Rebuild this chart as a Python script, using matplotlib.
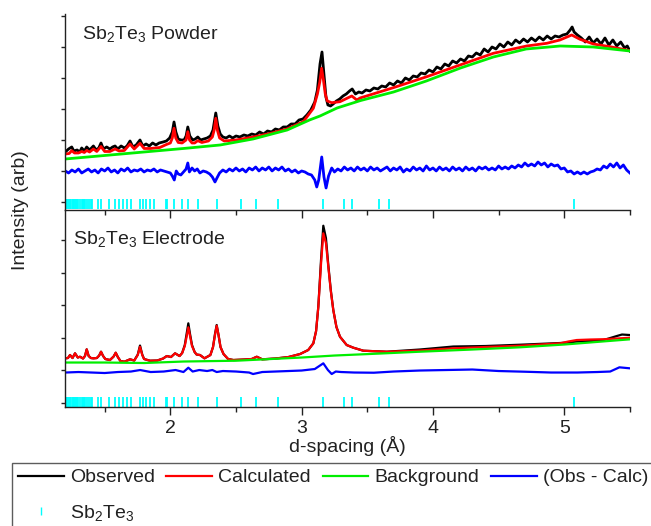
import numpy as np
import matplotlib
matplotlib.use('Agg')
import matplotlib.pyplot as plt
from matplotlib.lines import Line2D
from matplotlib.ticker import MultipleLocator

plt.rcParams['font.family'] = ['Liberation Sans', 'DejaVu Sans']
plt.rcParams['mathtext.default'] = 'regular'
plt.rcParams['font.size'] = 14

# Sb2Te3 reflection positions (d-spacing, A)
refl_d = [1.202, 1.208, 1.213, 1.220, 1.228, 1.236, 1.244, 1.255, 1.261, 1.267,
          1.275, 1.282, 1.290, 1.297, 1.312, 1.324, 1.335, 1.342, 1.350, 1.366,
          1.381, 1.396, 1.407, 1.452, 1.470, 1.535, 1.579, 1.612, 1.642, 1.668,
          1.701, 1.769, 1.794, 1.815, 1.845, 1.878, 1.967, 1.977, 2.030, 2.091,
          2.133, 2.213, 2.353, 2.538, 2.653, 2.818, 3.161, 3.325, 3.386, 3.592,
          3.668, 5.075]

# ---- powder pattern (arb. intensity)
powder_obs_d = [1.200, 1.225, 1.249, 1.265, 1.290, 1.310, 1.325, 1.345, 1.363, 1.385,
                1.400, 1.414, 1.435, 1.455, 1.472, 1.490, 1.515, 1.540, 1.560, 1.579,
                1.600, 1.625, 1.650, 1.670, 1.693, 1.715, 1.740, 1.769, 1.790, 1.815,
                1.840, 1.865, 1.890, 1.915, 1.945, 1.970, 1.995, 2.015, 2.028, 2.042,
                2.060, 2.080, 2.105, 2.120, 2.133, 2.148, 2.170, 2.190, 2.209, 2.230,
                2.255, 2.280, 2.305, 2.325, 2.346, 2.362, 2.380, 2.400, 2.425, 2.450,
                2.475, 2.500, 2.530, 2.560, 2.590, 2.620, 2.650, 2.680, 2.710, 2.740,
                2.770, 2.800, 2.830, 2.860, 2.890, 2.920, 2.950, 2.980, 3.010, 3.040,
                3.070, 3.100, 3.120, 3.140, 3.155, 3.170, 3.185, 3.200, 3.220, 3.240,
                3.265, 3.290, 3.315, 3.340, 3.365, 3.385, 3.410, 3.435, 3.460, 3.490,
                3.520, 3.550, 3.580, 3.610, 3.640, 3.670, 3.700, 3.730, 3.760, 3.790,
                3.820, 3.850, 3.880, 3.910, 3.940, 3.970, 4.000, 4.030, 4.060, 4.090,
                4.120, 4.150, 4.180, 4.210, 4.240, 4.270, 4.300, 4.330, 4.360, 4.390,
                4.420, 4.450, 4.480, 4.510, 4.540, 4.570, 4.600, 4.630, 4.660, 4.690,
                4.720, 4.750, 4.780, 4.810, 4.840, 4.870, 4.900, 4.930, 4.960, 4.990,
                5.020, 5.045, 5.060, 5.075, 5.100, 5.130, 5.160, 5.190, 5.220, 5.250,
                5.280, 5.310, 5.340, 5.370, 5.400, 5.430, 5.460, 5.480, 5.500]
powder_obs = [50, 53, 55, 51, 52, 50, 54, 51, 55, 52,
              54, 56, 52, 54, 59, 53, 55, 53, 55, 56,
              53, 56, 54, 56, 61, 55, 57, 62, 56, 58,
              56, 59, 57, 59, 60, 61, 64, 70, 80, 70,
              63, 62, 62, 66, 75, 66, 62, 63, 65, 62,
              63, 64, 66, 72, 89, 76, 68, 65, 64, 66,
              64, 66, 65, 67, 66, 68, 67, 70, 68, 71,
              70, 73, 72, 75, 75, 78, 78, 82, 83, 87,
              92, 100, 112, 138, 150, 128, 105, 97, 96, 98,
              101, 103, 106, 108, 111, 113, 108, 110, 109, 112,
              111, 114, 113, 116, 115, 119, 117, 121, 119, 124,
              122, 126, 125, 129, 128, 132, 130, 135, 133, 138,
              136, 141, 139, 143, 141, 146, 145, 149, 147, 153,
              150, 155, 153, 158, 155, 160, 157, 162, 159, 163,
              160, 164, 161, 165, 162, 166, 163, 166, 165, 167,
              168, 172, 175, 170, 167, 164, 160, 165, 159, 163,
              158, 164, 157, 162, 156, 160, 154, 156, 151]

powder_calc_d = [1.200, 1.230, 1.249, 1.270, 1.300, 1.325, 1.345, 1.363, 1.385, 1.414,
                 1.440, 1.472, 1.500, 1.540, 1.579, 1.610, 1.650, 1.693, 1.725, 1.769,
                 1.800, 1.850, 1.920, 1.970, 2.000, 2.015, 2.028, 2.041, 2.060, 2.090,
                 2.120, 2.133, 2.146, 2.165, 2.185, 2.209, 2.240, 2.290, 2.320, 2.334,
                 2.346, 2.358, 2.375, 2.410, 2.500, 2.632, 2.760, 2.887, 3.013, 3.089,
                 3.120, 3.138, 3.152, 3.166, 3.180, 3.195, 3.229, 3.292, 3.350, 3.382,
                 3.420, 3.445, 3.698, 3.953, 4.206, 4.460, 4.714, 4.867, 4.967, 5.057,
                 5.120, 5.222, 5.349, 5.500]
powder_calc = [48, 48.5, 51.3, 49, 49, 50.5, 49.5, 51.5, 50, 53,
               50.5, 55.5, 50.5, 50.5, 53, 51, 51.5, 58, 53, 58.7,
               53.5, 53.5, 54.5, 57.5, 59, 64, 73.7, 64, 59.5, 59,
               62, 70.3, 62, 59, 59, 61.3, 59.5, 61, 65, 72,
               83.7, 72, 64, 61, 62, 65, 68.5, 73, 80.3, 93.7,
               108, 120, 133.7, 122, 108, 101, 99.3, 100.3, 104, 106,
               102, 104, 114.3, 125.3, 137, 148.7, 156, 158.7, 162, 167,
               162.7, 158, 155.3, 151.3]

powder_bkg_d = [1.20, 1.50, 1.80, 2.10, 2.38, 2.63, 2.89, 3.06, 3.14, 3.27,
                3.45, 3.70, 3.95, 4.21, 4.46, 4.71, 4.97, 5.22, 5.50]
powder_bkg = [43, 46.5, 50, 53.5, 57, 63, 72, 82, 86, 94,
              101.5, 110, 121, 134, 145, 153, 156, 155, 151]

powder_diff_d = [1.200, 1.225, 1.250, 1.275, 1.300, 1.325, 1.350, 1.375, 1.400, 1.425,
                 1.450, 1.475, 1.500, 1.525, 1.550, 1.575, 1.600, 1.625, 1.650, 1.675,
                 1.700, 1.725, 1.750, 1.775, 1.800, 1.825, 1.850, 1.875, 1.900, 1.925,
                 1.950, 1.975, 2.000, 2.015, 2.030, 2.045, 2.060, 2.080, 2.100, 2.120,
                 2.133, 2.145, 2.165, 2.185, 2.205, 2.225, 2.250, 2.275, 2.300, 2.320,
                 2.340, 2.355, 2.375, 2.400, 2.425, 2.450, 2.475, 2.500, 2.525, 2.550,
                 2.575, 2.600, 2.625, 2.650, 2.675, 2.700, 2.725, 2.750, 2.775, 2.800,
                 2.825, 2.850, 2.875, 2.900, 2.925, 2.950, 2.975, 3.000, 3.025, 3.050,
                 3.075, 3.100, 3.115, 3.130, 3.153, 3.170, 3.186, 3.205, 3.229, 3.250,
                 3.275, 3.300, 3.325, 3.350, 3.375, 3.400, 3.425, 3.450, 3.475, 3.500,
                 3.525, 3.550, 3.575, 3.600, 3.625, 3.650, 3.675, 3.700, 3.725, 3.750,
                 3.775, 3.800, 3.825, 3.850, 3.875, 3.900, 3.925, 3.950, 3.975, 4.000,
                 4.025, 4.050, 4.075, 4.100, 4.125, 4.150, 4.175, 4.200, 4.225, 4.250,
                 4.275, 4.300, 4.325, 4.350, 4.375, 4.400, 4.425, 4.450, 4.475, 4.500,
                 4.525, 4.550, 4.575, 4.600, 4.625, 4.650, 4.675, 4.700, 4.725, 4.750,
                 4.775, 4.800, 4.825, 4.850, 4.875, 4.900, 4.925, 4.950, 4.975, 5.000,
                 5.025, 5.050, 5.075, 5.100, 5.125, 5.150, 5.175, 5.200, 5.225, 5.250,
                 5.275, 5.300, 5.325, 5.350, 5.375, 5.400, 5.425, 5.450, 5.475, 5.500]
powder_diff = [31, 29, 32, 30, 33, 29, 31, 33, 30, 32,
               29, 33, 31, 34, 30, 32, 29, 33, 31, 34,
               30, 32, 31, 33, 30, 32, 31, 33, 30, 32,
               31, 30, 29, 26, 22, 31, 28, 27, 30, 33,
               39, 30, 34, 31, 33, 29, 31, 30, 28, 25,
               20, 24, 29, 32, 30, 33, 31, 34, 31, 33,
               30, 34, 32, 35, 31, 34, 32, 35, 31, 34,
               32, 35, 31, 33, 30, 32, 29, 31, 30, 28,
               27, 22, 15, 22, 45, 25, 14, 26, 34, 30,
               33, 31, 35, 32, 34, 31, 35, 32, 34, 31,
               35, 32, 34, 31, 33, 35, 31, 34, 32, 35,
               30, 33, 31, 35, 32, 34, 31, 36, 32, 34,
               31, 35, 32, 34, 31, 35, 32, 34, 31, 35,
               32, 34, 31, 35, 33, 35, 32, 34, 32, 36,
               33, 35, 33, 36, 34, 37, 35, 39, 36, 38,
               36, 40, 37, 39, 35, 38, 36, 37, 33, 34,
               30, 31, 28, 30, 28, 30, 28, 30, 31, 33,
               32, 36, 34, 38, 35, 39, 34, 37, 32, 29]

# ---- electrode pattern (arb. intensity)
electrode_d = [1.200, 1.220, 1.236, 1.255, 1.274, 1.295, 1.312, 1.335, 1.350, 1.363,
               1.378, 1.395, 1.414, 1.440, 1.458, 1.472, 1.488, 1.505, 1.540, 1.568,
               1.584, 1.600, 1.620, 1.650, 1.693, 1.725, 1.752, 1.769, 1.786, 1.800,
               1.845, 1.900, 1.945, 1.973, 2.005, 2.036, 2.070, 2.090, 2.110, 2.125,
               2.137, 2.150, 2.165, 2.185, 2.200, 2.226, 2.260, 2.305, 2.325, 2.340,
               2.353, 2.367, 2.382, 2.405, 2.440, 2.480, 2.560, 2.620, 2.658, 2.700,
               2.800, 2.900, 2.988, 3.050, 3.089, 3.110, 3.127, 3.148, 3.165, 3.185,
               3.203, 3.222, 3.241, 3.265, 3.292, 3.343, 3.394, 3.470, 3.648, 3.900,
               4.155, 4.400, 4.663, 4.968, 5.030, 5.095, 5.200, 5.300, 5.400, 5.440,
               5.500]
electrode_calc = [44.7, 45, 48, 45, 49.7, 45.5, 46.3, 44.5, 47, 53.7,
                  47, 45, 44.7, 45, 47.5, 51.3, 47, 44, 43, 46.5,
                  50.3, 46, 42, 41.3, 43.7, 42.5, 48, 56.3, 48, 44,
                  42.3, 42.5, 44.5, 47, 46, 49.7, 47, 50, 57, 67,
                  75.7, 67, 57, 51, 48.5, 48, 44.7, 48, 56, 68,
                  77.3, 68, 56, 49, 44, 43, 43.5, 44, 46.3, 43.7,
                  44.5, 46, 49, 53, 59.7, 72, 96.3, 140, 169.7, 160,
                  136.3, 112, 93, 76, 66.3, 58, 55.3, 52.3, 51.3, 52.5,
                  54.7, 56, 57.3, 59.7, 61.5, 63, 63.5, 63.8, 64.5, 64.8,
                  65.3]
electrode_obs = [44.7, 45, 48, 45, 49.7, 45.5, 46.3, 44.5, 47, 53.7,
                 47, 45, 44.7, 45, 47.5, 51.3, 47, 44, 43, 46.5,
                 50.3, 46, 42, 41.3, 43.7, 42.5, 48.5, 57.5, 48.5, 44,
                 42.3, 42.5, 44.5, 47, 46, 49.7, 47, 50, 58, 70,
                 79.7, 69, 58, 51, 48.5, 48, 44.7, 48, 56, 69,
                 78, 68, 56, 49, 44, 43, 43.5, 44, 46.3, 43.7,
                 44.5, 46, 49, 53, 59.7, 72, 96.3, 144, 177.3, 165,
                 138, 113, 93, 76, 66.3, 58, 55.3, 52.3, 51.3, 53.5,
                 56.5, 57, 58.3, 60, 60.5, 61.5, 62, 63, 67, 68.5,
                 68]

electrode_bkg_d = [1.20, 1.50, 1.80, 2.10, 2.50, 3.00, 3.25, 3.60, 3.90, 4.30,
                   4.66, 5.00, 5.50]
electrode_bkg = [40.5, 40.5, 40, 41.5, 42.3, 45.5, 47.5, 49.5, 51.3, 53.5,
                 55.7, 58.5, 63.7]

electrode_diff_d = [1.20, 1.30, 1.40, 1.50, 1.60, 1.70, 1.77, 1.85, 1.95, 2.04,
                    2.10, 2.137, 2.17, 2.22, 2.28, 2.32, 2.353, 2.40, 2.50, 2.60,
                    2.63, 2.70, 2.80, 2.90, 3.00, 3.10, 3.165, 3.20, 3.229, 3.26,
                    3.30, 3.40, 3.55, 3.70, 3.90, 4.10, 4.30, 4.50, 4.70, 4.90,
                    5.10, 5.25, 5.35, 5.42, 5.50]
electrode_diff = [30.5, 31, 30.5, 30, 31, 31.5, 33, 31, 31.5, 33,
                  31, 35.3, 31.5, 33, 32, 33, 31, 32, 31.5, 30.5,
                  29, 31, 31.5, 32, 32.5, 34, 39.7, 33, 29, 31.5,
                  31, 30.5, 30.3, 31.5, 32.5, 33, 33.5, 32, 31.3, 30.5,
                  30.5, 31, 31.5, 35.7, 34.7]

C_OBS = 'black'
C_CALC = '#ff0000'
C_BKG = '#00ee00'
C_DIFF = '#0000ff'
C_REFL = '#00ffff'
TXT = '#222222'

fig = plt.figure(figsize=(6.51, 5.26), dpi=100)
ax1 = fig.add_axes([0.1003, 0.6008, 0.8673, 0.3726])
ax2 = fig.add_axes([0.1003, 0.2262, 0.8673, 0.3745])


def draw_panel(ax, obs_d, obs, calc_d, calc, bkg_d, bkg, diff_d, diff, refl_y, lw):
    ax.plot(obs_d, obs, color=C_OBS, lw=lw)
    ax.plot(calc_d, calc, color=C_CALC, lw=lw)
    ax.plot(bkg_d, bkg, color=C_BKG, lw=lw)
    ax.plot(diff_d, diff, color=C_DIFF, lw=lw)
    ax.plot(refl_d, np.full(len(refl_d), refl_y), ls='none', marker='|',
            ms=7, mew=1.3, color=C_REFL)
    ax.set_xlim(1.2, 5.5)
    ax.set_facecolor('none')
    for s in ['top', 'right']:
        ax.spines[s].set_visible(False)
    for s in ['left', 'bottom']:
        ax.spines[s].set_color(TXT)
        ax.spines[s].set_linewidth(1.0)
    ax.xaxis.set_major_locator(MultipleLocator(1))
    ax.xaxis.set_minor_locator(MultipleLocator(0.5))
    ax.tick_params(axis='x', which='major', direction='out', length=6, width=1,
                   color=TXT, labelcolor=TXT, labelsize=14)
    ax.tick_params(axis='x', which='minor', direction='out', length=3.5, width=1, color=TXT)
    ax.tick_params(axis='y', which='major', direction='out', length=3, width=1,
                   color=TXT, labelleft=False)


draw_panel(ax1, powder_obs_d, powder_obs, powder_calc_d, powder_calc,
           powder_bkg_d, powder_bkg, powder_diff_d, powder_diff, -2.5, 2.0)
ax1.set_ylim(-8, 188)
ax1.set_yticks(np.arange(0, 187, 31))
ax1.tick_params(axis='x', labelbottom=False)
ax1.text(0.0296, 0.872, 'Sb$_2$Te$_3$ Powder', transform=ax1.transAxes,
         va='baseline', ha='left', color=TXT, fontsize=14)

draw_panel(ax2, electrode_d, electrode_obs, electrode_d, electrode_calc,
           electrode_bkg_d, electrode_bkg, electrode_diff_d, electrode_diff, 1.0, 1.6)
ax2.set_ylim(-4, 193)
ax2.set_yticks(np.arange(6) * 32.6)
ax2.text(0.013, 0.827, 'Sb$_2$Te$_3$ Electrode', transform=ax2.transAxes,
         va='baseline', ha='left', color=TXT, fontsize=14)
ax2.set_xlabel('d-spacing (Å)', color=TXT, fontsize=14, labelpad=-1)

fig.text(0.031, 0.60, 'Intensity (arb)', rotation=90, va='center', ha='center',
         color=TXT, fontsize=14)

handles = [Line2D([], [], color=C_OBS, lw=1.6),
           Line2D([], [], ls='none', marker='|', ms=6, mew=1.0, color=C_REFL),
           Line2D([], [], color=C_CALC, lw=1.6),
           Line2D([], [], color=C_BKG, lw=1.6),
           Line2D([], [], color=C_DIFF, lw=1.6)]
labels = ['Observed', 'Sb$_2$Te$_3$', 'Calculated', 'Background', '(Obs - Calc)']
leg = fig.legend(handles, labels, ncol=4, loc='upper left',
                 bbox_to_anchor=(12 / 651, 1 - 463 / 526), borderaxespad=0,
                 frameon=True, fancybox=False, borderpad=0.3, handlelength=2.35,
                 handletextpad=0.32, columnspacing=0.6, labelspacing=0.85,
                 fontsize=14, labelcolor=TXT)
leg.get_frame().set_edgecolor('#333333')
leg.get_frame().set_linewidth(1.0)

fig.savefig('out.png', dpi=100)
